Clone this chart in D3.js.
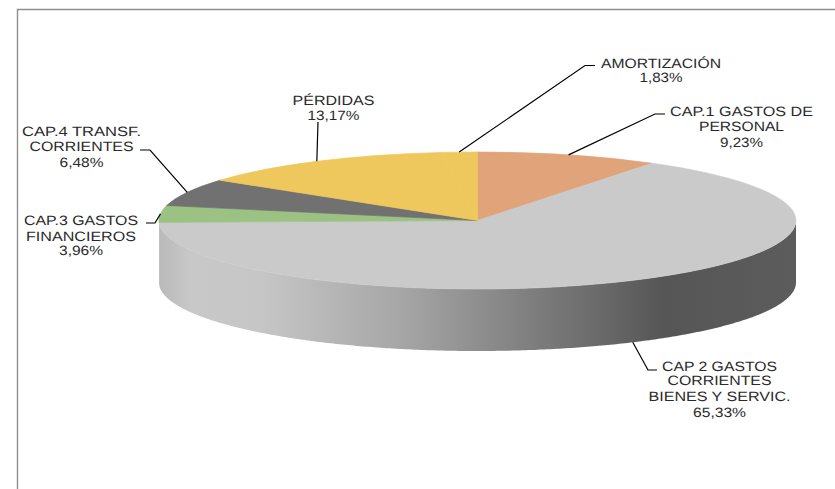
<!DOCTYPE html>
<html><head><meta charset="utf-8">
<script src="https://cdn.jsdelivr.net/npm/d3@7"></script>
<style>html,body{margin:0;padding:0;background:#fff;overflow:hidden}svg{display:block}text{font-family:"Liberation Sans",Arial,sans-serif;fill:#2a2a2a;text-rendering:geometricPrecision}</style>
</head><body><svg id="c" width="835" height="489"></svg>
<script>
const categories = ["CAP.1 GASTOS DE PERSONAL","CAP 2 GASTOS CORRIENTES BIENES Y SERVIC.","CAP.3 GASTOS FINANCIEROS","CAP.4 TRANSF. CORRIENTES","PÉRDIDAS","AMORTIZACIÓN"];
const values = [9.23,65.33,3.96,6.48,13.17,1.83];
const valueLabels = ["9,23%","65,33%","3,96%","6,48%","13,17%","1,83%"];
const labelLines = [["CAP.1 GASTOS DE","PERSONAL"],["CAP 2 GASTOS","CORRIENTES","BIENES Y SERVIC."],["CAP.3 GASTOS","FINANCIEROS"],["CAP.4 TRANSF.","CORRIENTES"],["PÉRDIDAS"],["AMORTIZACIÓN"]];
const colors = ["#e0a37a","#cacaca","#9bc283","#717171","#eec85c","#eec85c"];

// layout only
const cx=477.5, cy=220.5, rx=318.5, ry=68.5, depth=62;
const layout = [
 {x:741.5, base:[116,131,147], w:[143,85,43], elbow:[[655,114],[665,114]]},
 {x:719.5, base:[371,385,401,417], w:[115,104,142,53], elbow:[[648,370],[657,370]], side:true},
 {x:81, base:[225,241,255], w:[114,110,44], elbow:[[155,223],[146,223]]},
 {x:81.5, base:[136,151,167], w:[119,104,44], elbow:[[150,150],[140,150]]},
 {x:333.5, base:[105,120], w:[82,52], elbow:[[318,122]]},
 {x:661, base:[68,82], w:[120,43], elbow:[[585,65.5],[595,65.5]]}
];

const svg=d3.select("#c");
const defs=svg.append("defs");
const sx=d3.scaleLinear().domain([0,1]).range([cx-rx,cx+rx]);
const grad=defs.append("linearGradient").attr("id","side").attr("gradientUnits","userSpaceOnUse")
  .attr("x1",sx(0)).attr("x2",sx(1)).attr("y1",0).attr("y2",0);
[[0,"#b9b9b9"],[0.05,"#c8c8c8"],[0.16,"#c6c6c6"],[0.38,"#a6a6a6"],[0.55,"#858585"],[0.7,"#686868"],[0.79,"#565656"],[1,"#5c5c5c"]]
 .forEach(s=>grad.append("stop").attr("offset",s[0]).attr("stop-color",s[1]));

// frame
svg.append("path").attr("d",d3.line()([[17.5,489],[17.5,9.5],[835,9.5]])).attr("fill","none").attr("stroke","#8f8f8f").attr("stroke-width",1.4);

const arcs=d3.pie().sort(null).value(d=>d)(values);
const ex=a=>cx+rx*Math.sin(a), ey=a=>cy-ry*Math.cos(a);

// side wall of the slices facing the viewer
arcs.forEach(a=>{
  const s=Math.max(a.startAngle,Math.PI/2), e=Math.min(a.endAngle,3*Math.PI/2);
  if(e<=s) return;
  const ang=d3.range(s,e,0.01).concat([e]);
  svg.append("path").attr("d",d3.area().x(ex).y0(ey).y1(t=>ey(t)+depth)(ang)).attr("fill","url(#side)");
});

// top face
const arc=d3.arc().innerRadius(0).outerRadius(1);
svg.append("g").attr("transform",`translate(${cx},${cy}) scale(${rx},${ry})`)
  .selectAll("path").data(arcs).join("path").attr("d",arc).attr("fill",(d,i)=>colors[i])
  .attr("stroke",(d,i)=>colors[i]).attr("stroke-width",0.7).attr("vector-effect","non-scaling-stroke");

// leaders and labels
arcs.forEach((a,i)=>{
  const m=(a.startAngle+a.endAngle)/2, L=layout[i];
  const p=[ex(m), ey(m)+(L.side?depth:0)];
  svg.append("path").attr("d",d3.line()([p,...L.elbow])).attr("fill","none").attr("stroke","#000").attr("stroke-width",1.2);
  const lines=[...labelLines[i],valueLabels[i]];
  svg.append("g").selectAll("text").data(lines).join("text")
    .attr("x",L.x).attr("y",(d,j)=>L.base[j]).attr("text-anchor","middle").attr("font-size",13.5)
    .attr("textLength",(d,j)=>L.w[j]).attr("lengthAdjust","spacingAndGlyphs").text(d=>d);
});
</script></body></html>
